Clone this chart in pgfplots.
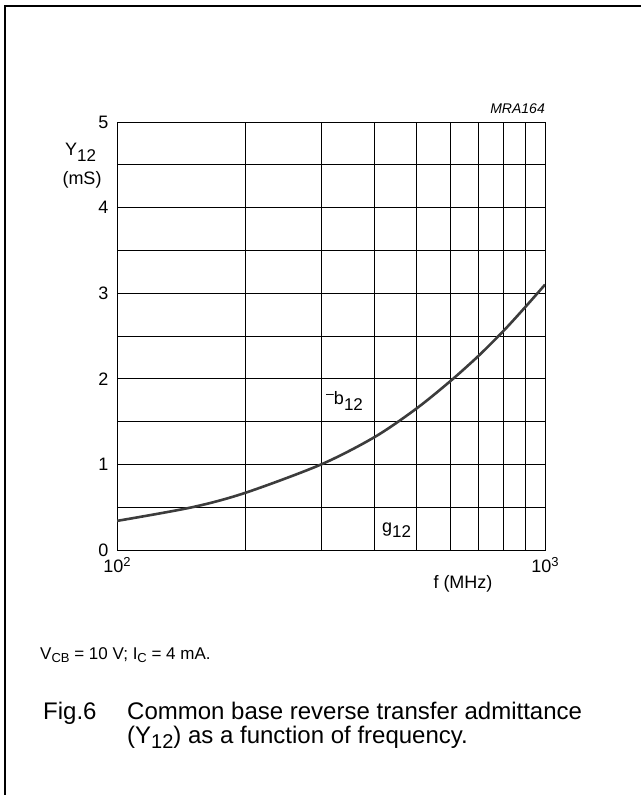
\documentclass[border=0pt]{standalone}
\usepackage{fontspec}
\setmainfont{Liberation Sans}
\usepackage{pgfplots}
\pgfplotsset{compat=1.18}
\definecolor{curve}{RGB}{60,60,60}
\newcommand{\fs}[1]{\fontsize{#1}{#1}\selectfont}
\begin{document}
\begin{tikzpicture}
\useasboundingbox (0pt,0pt) rectangle (641pt,795pt);
\draw[line width=1.8pt] (5pt,0pt) -- (5pt,789pt) -- (641pt,789pt);
\begin{axis}[at={(117pt,245pt)}, anchor=south west,
  width=428pt, height=428pt, scale only axis,
  xmode=log, xmin=100, xmax=1000, ymin=0, ymax=5,
  xtick={100,1000},
  xticklabels={10\raisebox{6pt}{\fs{13}2},10\raisebox{6pt}{\fs{13}3}},
  minor xtick={200,300,400,500,600,700,800,900},
  ytick={0,1,2,3,4,5}, minor ytick={0.5,1.5,2.5,3.5,4.5},
  grid=both,
  grid style={black, line width=0.8pt},
  minor grid style={black, line width=0.8pt},
  axis line style={line width=0.9pt},
  tick style={draw=none},
  ticklabel style={font=\fs{18}},
  yticklabel style={xshift=-5pt},
  xticklabel style={anchor=base, yshift=-23pt},
  /pgf/number format/assume math mode=true,
]
\addplot[curve, line width=2.6pt, smooth] coordinates {
(100,0.34) (150,0.50) (200,0.67) (300,1.00) (400,1.32) (500,1.65)
(600,1.97) (700,2.27) (800,2.56) (900,2.84) (1000,3.10)
};
\end{axis}
\node[font=\fs{18}, anchor=base west, inner sep=0pt] at (65pt,639pt) {Y\raisebox{-6pt}{\fs{17}12}};
\node[font=\fs{18}, anchor=base, inner sep=0pt] at (82pt,610pt) {(mS)};
\node[font=\fs{14}\itshape, anchor=base east, inner sep=0pt] at (545pt,681pt) {MRA164};
\node[font=\fs{18}, anchor=base, inner sep=0pt] at (463pt,206pt) {f (MHz)};
\node[font=\fs{18}, anchor=base west, inner sep=0pt] at (326pt,390pt) {\raisebox{6pt}{\fs{14}–}b\raisebox{-6pt}{\fs{17}12}};
\node[font=\fs{18}, anchor=base west, inner sep=0pt] at (382pt,262pt) {g\raisebox{-5pt}{\fs{17}12}};
\node[font=\fs{17}, anchor=base west, inner sep=0pt] at (40pt,135pt)
  {V\raisebox{-3pt}{\fs{13}CB} = 10 V; I\raisebox{-3pt}{\fs{13}C} = 4 mA.};
\node[font=\fs{24}, anchor=base west, inner sep=0pt] at (43pt,75pt) {Fig.6};
\node[font=\fs{24}, anchor=base west, inner sep=0pt] at (127pt,75pt) {Common base reverse transfer admittance};
\node[font=\fs{24}, anchor=base west, inner sep=0pt] at (127pt,51pt) {(Y\raisebox{-5pt}{\fs{20}12}) as a function of frequency.};
\end{tikzpicture}
\end{document}
